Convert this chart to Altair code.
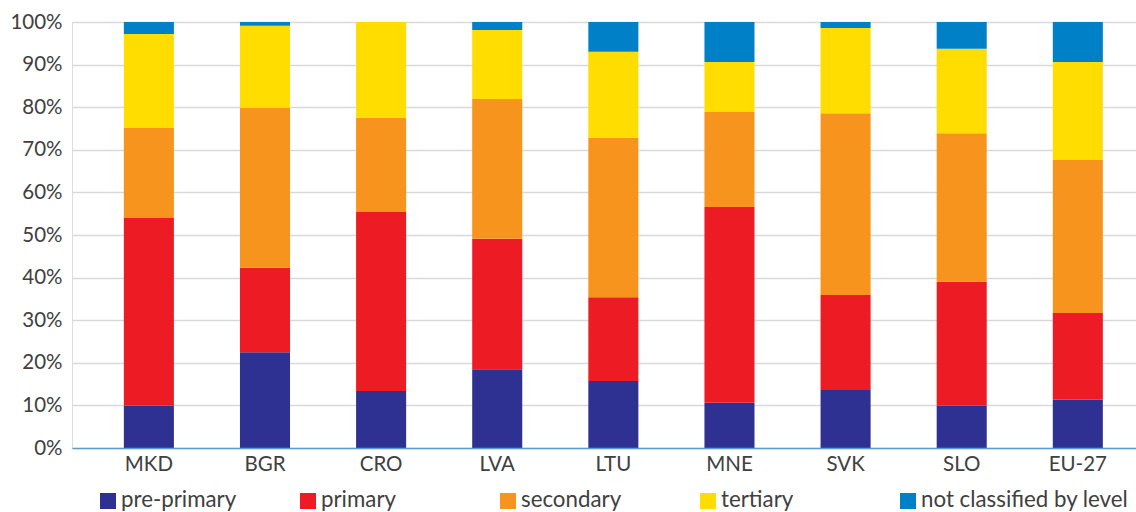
import altair as alt
import pandas as pd

# Share of each education level, percent, per country
countries = ["MKD", "BGR", "CRO", "LVA", "LTU", "MNE", "SVK", "SLO", "EU-27"]
levels = ["pre-primary", "primary", "secondary", "tertiary", "not classified by level"]
colors = ["#2E3192", "#ED1C24", "#F7941D", "#FFDD00", "#0080C6"]

pre_primary = [10.0, 22.5, 13.4, 18.5, 15.7, 10.6, 13.6, 9.9, 11.3]
primary = [44.0, 19.8, 42.0, 30.6, 19.7, 46.0, 22.3, 29.1, 20.4]
secondary = [21.1, 37.5, 22.1, 32.8, 37.4, 22.3, 42.7, 34.9, 35.9]
tertiary = [22.1, 19.3, 22.5, 16.2, 20.2, 11.7, 20.0, 19.8, 23.0]
not_classified = [2.8, 0.9, 0.0, 1.9, 7.0, 9.4, 1.4, 6.3, 9.4]

series = [pre_primary, primary, secondary, tertiary, not_classified]
rows = []
for li, (lvl, vals) in enumerate(zip(levels, series)):
    for c, v in zip(countries, vals):
        rows.append({"country": c, "level": lvl, "idx": li, "value": v})
df = pd.DataFrame(rows)
legend_df = pd.DataFrame({"level": levels})

FONT = "Lato"
TXT = "#404040"

color = alt.Color("level:N", scale=alt.Scale(domain=levels, range=colors), legend=None)

bars = alt.Chart(df).mark_bar().encode(
    x=alt.X(
        "country:N",
        sort=countries,
        scale=alt.Scale(paddingInner=0.569, paddingOuter=0.366, align=0.61),
        axis=alt.Axis(
            title=None, labelAngle=0, ticks=False, labelPadding=6,
            domainColor="#5B9BD5", domainWidth=1.5, labelFontSize=20.5,
            labelColor=TXT, labelFont=FONT, zindex=1,
        ),
    ),
    y=alt.Y(
        "value:Q",
        stack="zero",
        scale=alt.Scale(domain=[0, 100], nice=False),
        axis=alt.Axis(
            title=None, values=list(range(0, 101, 10)), labelExpr="datum.value + '%'",
            ticks=False, domain=False, gridColor="#D9D9D9", gridWidth=1.3,
            labelPadding=10, labelFontSize=20.5, labelColor=TXT, labelFont=FONT,
        ),
    ),
    color=color,
    order=alt.Order("idx:Q", sort="ascending"),
)

legend_x = alt.X(
    "level:N", sort=levels,
    scale=alt.Scale(type="point", domain=levels, range=[36, 836], padding=0),
    axis=None,
)

legend_sq = alt.Chart(legend_df).mark_square(size=256, opacity=1).encode(
    x=legend_x, y=alt.value(479), color=color,
)
legend_txt = alt.Chart(legend_df).mark_text(
    align="left", baseline="middle", dx=13, dy=-1, fontSize=22.3, font=FONT, color=TXT,
).encode(x=legend_x, y=alt.value(479), text="level:N")

chart = (
    alt.layer(bars, legend_sq, legend_txt)
    .resolve_scale(x="independent")
    .properties(
        width=1064, height=426,
        padding={"left": 72, "top": 22, "right": 0, "bottom": 64},
        autosize=alt.AutoSizeParams(type="none"),
    )
    .configure_view(stroke=None)
    .configure(background="white")
)

chart.save("out.html", embed_options={"renderer": "svg", "actions": False})
